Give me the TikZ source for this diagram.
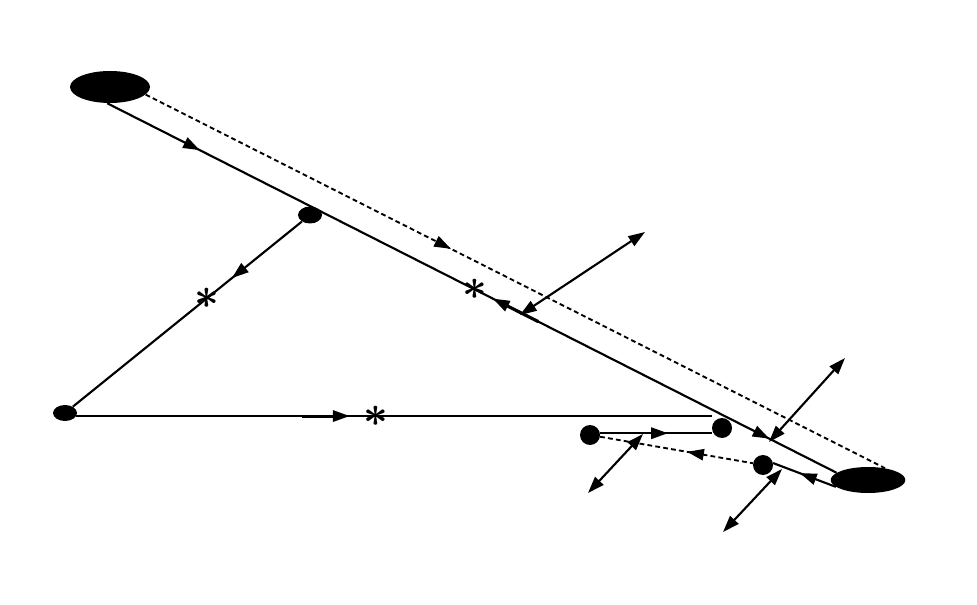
\documentclass[tikz,border=0pt]{standalone}
\usetikzlibrary{shapes.geometric,arrows.meta,decorations.markings}
\begin{document}
\begin{tikzpicture}[x=0.75pt,y=-0.75pt,
  blob/.style={ellipse,fill=black,draw=none,inner sep=0pt},
  dot/.style={circle,fill=black,draw=none,inner sep=0pt,minimum size=15pt},
  ln/.style={line width=1.6pt},
  dl/.style={line width=1.4pt,dash pattern=on 3.6pt off 2.4pt},
  star/.style={inner sep=0pt,scale=1.3,font=\fontsize{24.88}{25}\selectfont\boldmath},
  tipA/.tip={Triangle[length=12.5pt,width=8.5pt]},
  fwd/.style={postaction={decorate,decoration={markings,mark=at position #1 with {\arrow{tipA}}}}},
  bwd/.style={postaction={decorate,decoration={markings,mark=at position #1 with {\arrowreversed{tipA}}}}},
  fwdsh/.style={postaction={decorate,decoration={markings,mark=at position #1 with {\draw[line width=2.2pt] (-36pt,0) -- (-6pt,0);\arrow{tipA}}}}},
  bwdsh/.style={postaction={decorate,decoration={markings,mark=at position #1 with {\draw[line width=2.4pt] (6pt,0) -- (38pt,0);\arrowreversed{tipA}}}}},
  dbl/.style={line width=1.6pt,tipA-tipA}
]
\useasboundingbox (0,0) rectangle (977,605);

% nodes
\node[blob,minimum width=60pt,minimum height=24pt] (A) at (110,87) {};
\node[blob,minimum width=56pt,minimum height=19.5pt] (B) at (868,480) {};
\node[blob,minimum width=18pt,minimum height=12.75pt] (C) at (310,215) {};
\node[blob,minimum width=18pt,minimum height=12pt] (D) at (65,413) {};
\node[dot] (E) at (722,428) {};
\node[dot] (F) at (590,435) {};
\node[dot] (G) at (763,465) {};

% main line
\draw[ln,fwd=0.127,bwdsh=0.529,fwd=0.908] (A.-100) -- node[star,pos=0.504] (s2) {$\ast$} (B.167);
% dashed line
\draw[dl,fwd=0.413] (A.-12) -- (B.35);
% C to D
\draw[ln,fwd=0.305] (C) -- node[star,pos=0.414] (s1) {$\ast$} (D);
% D to E
\draw[ln,fwdsh=0.43] (D.-15) -- node[star,pos=0.471] (s3) {$\ast$} (D.-15 -| E.west);
% F to E
\draw[ln,fwd=0.607] (F.10) -- (F.10 -| E.west);
% F to G dashed
\draw[dl,bwd=0.57] (F) -- (G);
% B to G
\draw[ln,fwd=0.57] (B.192) -- (G.11);

% double arrows
\coordinate (p1) at (520,315); \coordinate (q1) at (645,232);
\coordinate (p2) at (769,442); \coordinate (q2) at (845,358);
\coordinate (p3) at (643,434); \coordinate (q3) at (588,493);
\coordinate (p4) at (782,469); \coordinate (q4) at (723,532);
\draw[dbl] (p1) -- (q1);
\draw[dbl] (p2) -- (q2);
\draw[dbl] (p3) -- (q3);
\draw[dbl] (p4) -- (q4);
\end{tikzpicture}
\end{document}
